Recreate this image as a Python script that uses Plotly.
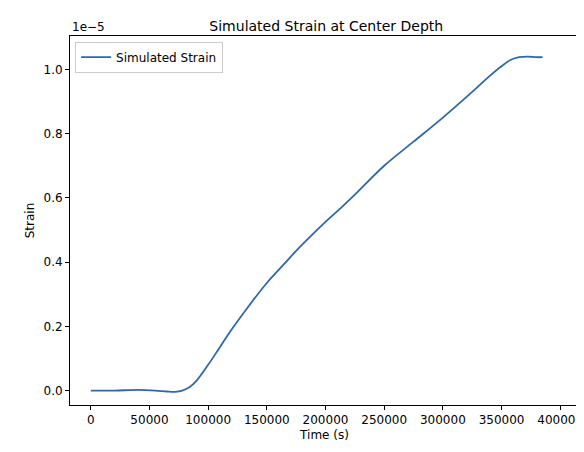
import plotly.graph_objects as go

time_s = [0, 20000, 40000, 55000, 65000, 72000, 78000, 84000, 90000, 100000, 110000, 120000, 135000,
          150000, 165000, 175000, 190000, 200000, 215000, 225000, 250000, 275000, 300000, 325000,
          340000, 350000, 358000, 365000, 372000, 380000, 385000]
strain_e5 = [0.0, 0.0, 0.002, 0.0, -0.003, -0.004, 0.0, 0.01, 0.03, 0.08, 0.135, 0.19, 0.265,
             0.335, 0.395, 0.435, 0.49, 0.525, 0.575, 0.61, 0.70, 0.775, 0.85, 0.93,
             0.98, 1.01, 1.03, 1.038, 1.04, 1.038, 1.038]
yticks = [0.0, 0.2, 0.4, 0.6, 0.8, 1.0]
xticks = [0, 50000, 100000, 150000, 200000, 250000, 300000, 350000, 400000]

fig = go.Figure(go.Scatter(x=time_s, y=strain_e5, mode="lines", name="Simulated Strain",
                           line=dict(color="#2f67ae", width=1.8, shape="spline")))
ax = dict(showline=True, mirror=True, linecolor="black", linewidth=1, ticks="outside",
          ticklen=4, tickcolor="black", showgrid=False, zeroline=False)
fig.update_layout(
    width=584, height=452, plot_bgcolor="white", paper_bgcolor="white",
    font=dict(family="DejaVu Sans", size=12, color="black"),
    margin=dict(l=62, r=9, t=28, b=55),
    title=dict(text="Simulated Strain at Center Depth", x=0.545, xanchor="center", y=0.97, font=dict(size=14)),
    xaxis=dict(ax, range=[-17700, 416000], tickvals=xticks, ticktext=[str(v) for v in xticks],
               title=dict(text="Time (s)", standoff=4, font=dict(size=12))),
    yaxis=dict(ax, range=[-0.045, 1.104], tickvals=yticks, ticktext=[f"{v:.1f}" for v in yticks],
               title=dict(text="Strain", standoff=6, font=dict(size=12))),
    legend=dict(x=0.01, y=0.985, xanchor="left", yanchor="top", bordercolor="#cccccc", borderwidth=1,
                bgcolor="rgba(255,255,255,0.8)", font=dict(size=12)),
    showlegend=True,
)
fig.add_annotation(text="1e−5", xref="paper", yref="paper", x=0, y=1.0, xanchor="left", yanchor="bottom",
                   showarrow=False, font=dict(size=12))
fig.write_html("out.html")
